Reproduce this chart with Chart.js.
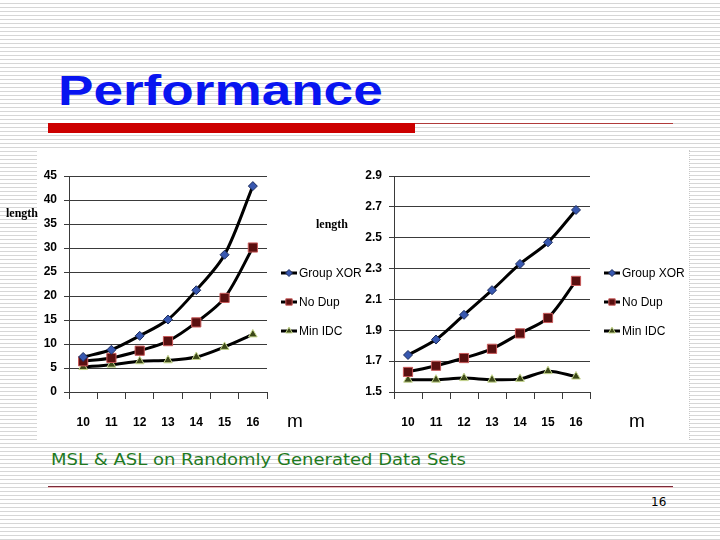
<!DOCTYPE html>
<html>
<head>
<meta charset="utf-8">
<script src="https://cdn.jsdelivr.net/npm/chart.js@4.4.1/dist/chart.umd.min.js"></script>
<style>
  html, body { margin:0; padding:0; }
  body {
    width:720px; height:540px; position:relative; overflow:hidden;
    background: repeating-linear-gradient(to bottom, #ffffff 0px, #ffffff 3px, #d6d6d6 3px, #d6d6d6 4px);
  }
  .abs { position:absolute; white-space:nowrap; }
  #title { left:58px; top:69px; font:bold 43px "Liberation Sans", Arial, sans-serif; line-height:43px; color:#0814f0; transform-origin:0 0; transform:scaleX(1.235); }
  #redbar { left:48px; top:123px; width:367px; height:10px; background:#cc0000; }
  #thinline { left:415px; top:123px; width:258px; height:1px; background:#b03a3a; }
  #whitebox { left:37px; top:150px; width:652px; height:290px; background:#fff; border-right:1px dotted #c8c8c8; }
  #c1 { position:absolute; left:38px; top:150px; }
  #c2 { position:absolute; left:360px; top:150px; }
  .len { font:bold 12px "Liberation Serif", "Times New Roman", serif; line-height:14px; color:#000; }
  .m { font:19px "Liberation Sans", Arial, sans-serif; line-height:19px; color:#000; }
  #subtitle { left:51px; top:452px; font:16px "DejaVu Sans", Verdana, sans-serif; line-height:16px; color:#1f7a1f; transform-origin:0 0; transform:scaleX(1.125); }
  #botline { left:48px; top:486px; width:625px; height:1px; background:#7a2a3a; box-shadow:0 1px 0 #e8b8b8; }
  #pnum { left:651px; top:495px; font:12px "DejaVu Sans", Verdana, sans-serif; line-height:14px; color:#000; }
</style>
</head>
<body>
<div class="abs" id="title">Performance</div>
<div class="abs" id="redbar"></div>
<div class="abs" id="thinline"></div>
<div class="abs" id="whitebox"></div>
<canvas id="c2" width="330" height="290"></canvas>
<canvas id="c1" width="332" height="290"></canvas>
<div class="abs len" style="left:6px; top:206px;">length</div>
<div class="abs len" style="left:316px; top:217px;">length</div>
<div class="abs m" style="left:287px; top:411px;">m</div>
<div class="abs m" style="left:629px; top:411px;">m</div>
<div class="abs" id="subtitle">MSL &amp; ASL on Randomly Generated Data Sets</div>
<div class="abs" id="botline"></div>
<div class="abs" id="pnum">16</div>

<script>
// ---------- data ----------
const categories = ['10', '11', '12', '13', '14', '15', '16'];
const seriesNames = ['Group XOR', 'No Dup', 'Min IDC'];

// left chart (maximum search length)
const mslGroupXor = [7.3, 8.8, 11.7, 15.1, 21.2, 28.6, 42.9];
const mslNoDup    = [6.4, 7.1, 8.6, 10.6, 14.5, 19.6, 30.1];
const mslMinIdc   = [5.2, 5.7, 6.4, 6.6, 7.3, 9.4, 12.0];
const mslTickRange = [0, 45, 5];

// right chart (average search length)
const aslGroupXor = [1.74, 1.84, 2.00, 2.16, 2.33, 2.47, 2.68];
const aslNoDup    = [1.63, 1.67, 1.72, 1.78, 1.88, 1.98, 2.22];
const aslMinIdc   = [1.58, 1.58, 1.59, 1.58, 1.585, 1.635, 1.60];
const aslTickRange = [1.5, 2.9, 0.2];

// ---------- styles ----------
const markerStyles = [
  { pointStyle: 'rectRot',  radius: 4.5, bg: '#3858b0', border: '#1c2c5c', legendRadius: 3.5 },
  { pointStyle: 'rect',     radius: 6.5, bg: '#5a1010', border: '#c85a5a', legendRadius: 4.5 },
  { pointStyle: 'triangle', radius: 5,   bg: '#3c4818', border: '#c8d890', legendRadius: 4 }
];
const gridColor = '#3a3a3a';
const tickFont = { family: '"Liberation Sans", Arial, sans-serif', size: 12, weight: 'bold' };
const legendFont = '12px "Liberation Sans", Arial, sans-serif';

function makeDatasets(values) {
  return values.map((vals, i) => ({
    label: seriesNames[i],
    data: vals,
    borderColor: '#000',
    borderWidth: 3,
    tension: 0.3,
    pointStyle: markerStyles[i].pointStyle,
    pointRadius: markerStyles[i].radius,
    pointBackgroundColor: markerStyles[i].bg,
    pointBorderColor: markerStyles[i].border,
    pointBorderWidth: 1,
    fill: false
  }));
}

const legendPlugin = {
  id: 'excelLegend',
  afterDraw(chart) {
    const ctx = chart.ctx;
    const area = chart.chartArea;
    const x0 = area.right + 14;
    const yMid = chart.height / 2 + 7;
    const gap = 29;
    ctx.save();
    chart.data.datasets.forEach((ds, i) => {
      const y = yMid + (i - 1) * gap;
      ctx.strokeStyle = '#000';
      ctx.lineWidth = 3;
      ctx.beginPath();
      ctx.moveTo(x0, y);
      ctx.lineTo(x0 + 16, y);
      ctx.stroke();
      const ms = markerStyles[i];
      ctx.fillStyle = ms.bg;
      ctx.strokeStyle = ms.border;
      ctx.lineWidth = 1;
      Chart.helpers.drawPoint(ctx, { pointStyle: ms.pointStyle, radius: ms.legendRadius, rotation: 0, borderWidth: 1 }, x0 + 8, y);
      ctx.fillStyle = '#000';
      ctx.font = legendFont;
      ctx.textBaseline = 'middle';
      ctx.textAlign = 'left';
      ctx.fillText(ds.label, x0 + 18, y + 1);
    });
    ctx.restore();
  }
};

function makeChart(id, values, range, yWidth, rightPad, decimals) {
  return new Chart(document.getElementById(id), {
    type: 'line',
    data: { labels: categories, datasets: makeDatasets(values) },
    plugins: [legendPlugin],
    options: {
      responsive: false,
      animation: false,
      devicePixelRatio: 1,
      layout: { padding: { left: 0, top: 26, right: rightPad, bottom: 0 } },
      plugins: { legend: { display: false }, tooltip: { enabled: false } },
      scales: {
        x: {
          type: 'category',
          offset: true,
          grid: { offset: true, drawOnChartArea: false, drawTicks: true, tickLength: 7, color: gridColor },
          border: { display: true, color: gridColor, width: 1 },
          ticks: { color: '#000', font: tickFont, padding: 16, maxRotation: 0 },
          afterFit(s) { s.height = 48; }
        },
        y: {
          min: range[0], max: range[1],
          grid: { color: gridColor, lineWidth: 1, drawTicks: true, tickLength: 5 },
          border: { display: true, color: gridColor, width: 1 },
          ticks: {
            stepSize: range[2], color: '#000', font: tickFont, padding: 7,
            callback: (v) => Number(v).toFixed(decimals)
          },
          afterFit(s) { s.width = yWidth; }
        }
      }
    }
  });
}

makeChart('c1', [mslGroupXor, mslNoDup, mslMinIdc], mslTickRange, 31, 103, 0);
makeChart('c2', [aslGroupXor, aslNoDup, aslMinIdc], aslTickRange, 34, 100, 1);
</script>
</body>
</html>
